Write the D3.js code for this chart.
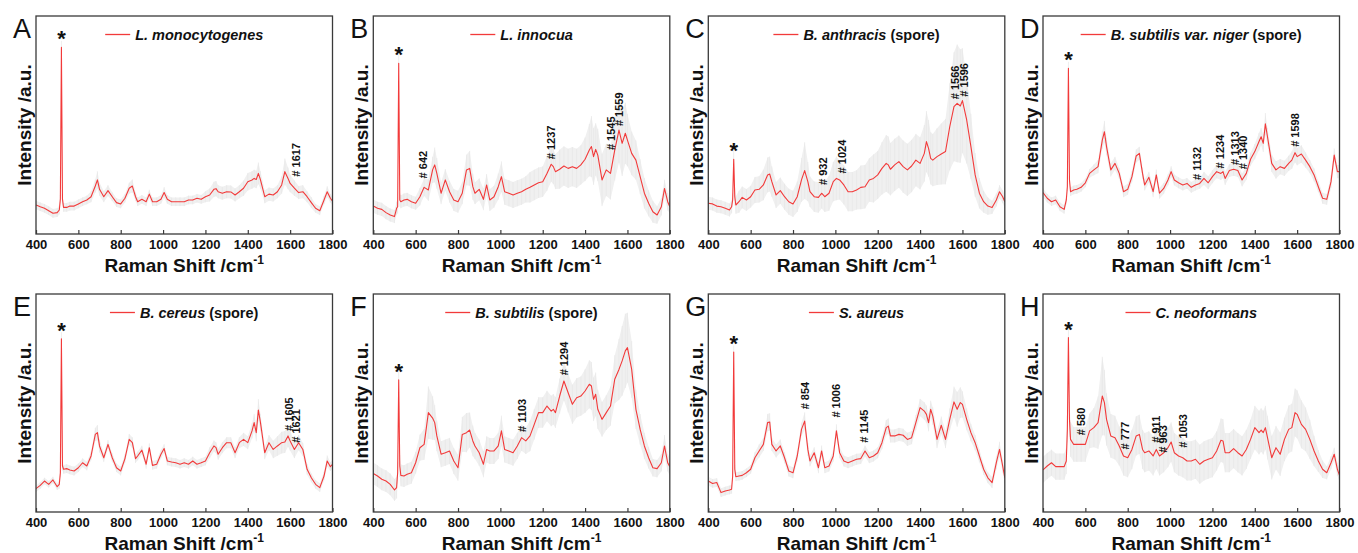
<!DOCTYPE html>
<html><head><meta charset="utf-8">
<script src="https://cdn.jsdelivr.net/npm/d3@7"></script>
<style>
body{margin:0;background:#fff;}
svg{display:block;font-family:Arial,"Liberation Sans",sans-serif;}
</style></head><body>
<svg id="chart" width="1358" height="553"></svg>
<script>
// Raman shift grid (cm-1)
const shifts = [400,420,440,460,480,500,510,515,520,525,
530,545,560,580,600,620,640,660,680,690,
700,720,740,760,780,800,820,840,855,870,
880,900,920,935,950,970,990,1005,1020,1040,
1060,1080,1100,1120,1140,1160,1180,1200,1220,1240,
1250,1260,1280,1300,1320,1340,1360,1380,1400,1420,
1430,1440,1450,1460,1480,1500,1520,1540,1560,1575,
1590,1600,1620,1640,1660,1680,1700,1720,1740,1760,
1775,1790,1800];
const xTicks = [400,600,800,1000,1200,1400,1600,1800];
const panelLetters = ["A","B","C","D","E","F","G","H"];
const speciesNames = ["L. monocytogenes","L. innocua","B. anthracis","B. subtilis var. niger","B. cereus","B. subtilis","S. aureus","C. neoformans"];
const speciesSuffix = ["","", " (spore)", " (spore)", " (spore)", " (spore)", "", ""];

// mean intensities (a.u., 0-100 of frame)
const meanA = [13.3,12.5,11.8,10.7,9.5,9.8,11,16,85.6,16,
12.2,12.2,12.8,12.8,13.8,14.8,15.6,17.1,22,24.8,
20.5,17.1,19.9,17.1,14.4,13.8,16.4,21,22,17.1,
14.8,15.9,14.8,18.3,14.8,14.8,15.9,19,15.9,14.8,
14.8,14.8,14.8,15.6,15.6,16.4,15.9,17.1,17.9,20.5,
20.8,19.4,18.7,19.4,19.3,17.9,19.4,21,24,24.8,
25.5,25,27.8,24.8,17.1,18.3,17.9,19.4,22.5,28.6,
25.5,23.2,21,19,19.4,17.1,14.4,11.8,10.7,15.6,
19.4,16.4,15.1];
const sdA = [2,2,2,2,2,2,2,2,3,2,
2,2,2,2,2,2,2,2.5,3,4,
3,2.5,2.5,2,2,2,2,2.5,3,2,
2,2,2,2,2,2,2,2.5,2,2,
2,2,2,2,2,2,2,2.5,3,3.5,
3.5,3,3,3,3,3,3,3.5,4,4,
4,4,5,4,3,3,3,3,4,6,
5,4,3.5,3,3,2.5,2.5,2,2,2,
2.5,2,2];
const meanB = [12.8,11.8,11.3,9.8,8.7,8,11.8,12.5,78.3,15.6,
14.8,15.6,15.9,14.8,14.1,17.1,21.4,20.2,29.4,31.7,
27.8,18.7,24.8,19.4,15.6,14.8,18.7,29.4,30.1,21.7,
18.7,20.5,15.9,22.5,15.6,17.1,21.7,26.3,19.4,18.7,
17.9,18.7,19.4,20.5,21.4,22.5,23.5,24,27.8,32,
30.9,28.6,29.7,31.2,30.1,30.9,30.1,31.7,34.3,38.5,
40.1,35.5,38.8,36.2,24.8,29.4,27.8,38.5,47.7,41.6,
46.2,43.1,37,33.9,26.3,18.7,14.1,10.2,8.7,12.5,
20.9,14.8,12.5];
const sdB = [3,3,3,3,3,3,3,3,4,3,
3,3,3,3,3,4,4,5,6,8,
7,5,5,5,5,5,5,7,8,6,
5,5,5,5,5,5,6,7,6,6,
6,6,6,6,7,7,7,7,8,8,
8,8,9,9,9,9,9,9,10,12,
14,13,12,12,12,12,12,14,15,15,
14,12,10,9,8,7,6,5,4,4,
4,4,3];
const meanC = [14.1,13.8,12.8,12.5,11.8,11,12.5,15.6,34.3,17.1,
13.3,14.8,16.8,15.6,17.1,20.2,20.5,22.5,27.1,27.5,
24,17.9,19.9,17.1,14.8,13.8,17.1,24.8,29.1,24,
19.4,17.1,16.8,18.7,17.1,18.7,24,25.5,24.8,22.5,
19.4,19.4,20.2,21.4,21.7,24.8,25.5,27.1,30.1,32.4,
31.7,29.7,31.7,33.2,30.9,29.4,31.2,33.9,32.4,37,
42.4,39.3,34.7,33.9,35.5,36.7,37.8,49.2,58.4,59.9,
58.7,61.2,52.3,40.1,27.1,18.7,14.8,12.8,12.2,15.6,
19.4,17.1,14.8];
const sdC = [3,3,3,3,3,3,3,3,5,4,
4,5,5,5,5,6,6,7,8,8,
7,6,6,6,6,6,7,10,13,9,
7,7,7,7,7,8,9,10,9,9,
9,9,9,10,10,10,11,11,12,13,
13,12,12,12,12,12,12,12,12,13,
14,13,12,12,13,14,15,20,25,27,
26,24,20,15,10,7,5,4,3,3,
3,3,3];
const meanD = [19,16.4,14.8,15.6,12.5,11.3,15.6,21.7,76,24.8,
19.4,20.2,20.5,21.4,23.5,27.8,29.4,30.9,43.1,46.9,
40.1,29.4,32.4,27.8,19.4,20.5,26.3,35.8,37,27.8,
22.5,26,19.4,27.1,18.7,20.9,24.8,28.6,24.8,23.5,
22.5,23.2,21.4,22.5,23.2,25.5,23.5,26.3,28.6,27.8,
28.6,25.5,29.1,29.7,29.1,24.8,27.8,34.3,37.8,42.4,
44.6,41.6,50.5,44.6,32.4,29.4,30.9,30.1,32.4,33.9,
37.3,35.5,36.7,33.9,30.9,27.1,21.7,16.4,15.9,24,
36.2,28.6,28.6];
const sdD = [2,2,2,2,2,2,2,2,3,2,
2,2,2,2,2,2,2.5,3,4,5,
4,3,3,2.5,2.5,2.5,2.5,3,3,2.5,
2.5,2.5,2.5,2.5,2.5,2.5,2.5,2.5,2.5,2.5,
2.5,2.5,2.5,2.5,2.5,3,3,3,3,3,
3,3,3,3,3,3,3,3,3.5,4,
4,4,5,4,4,4,3.5,3.5,3.5,4,
4.5,4,4,3.5,3,3,2.5,2.5,2.5,3,
3,3,3];
const meanE = [10.7,12.2,14.2,12.7,14.7,11.6,12.7,18,79.5,21.1,
19.6,19.9,19.3,18.8,20.3,22.6,21.1,25.7,35.6,36.4,
30.3,24.9,31,24.9,20.3,18.8,24.5,33.3,31.8,24.5,
25.7,28.4,21.9,29.5,21.4,21.9,26.5,29.1,23.4,22.9,
22.6,21.9,22.6,21.9,23.4,21.9,22.6,23.4,27.2,30.3,
29.5,26.5,29.5,31.8,31.8,27.2,31.8,33.3,31.8,37.2,
41,36.4,46.8,41,27.2,31.8,28.7,30.3,31.8,32.1,
34.9,32.6,28.7,31.8,28.7,19.6,15.7,12.7,11.2,16.5,
23.4,20.8,21.9];
const sdE = [1.5,1.5,1.5,1.5,1.5,1.5,2,2,3,2,
2,2,2,2,2,2,2,2,3,3.5,
3,2,2,2,2,2,2,2.5,2.5,2,
2,2,2,2,2,2,2,2,2,2,
2,2,2,2,2,2,2,2,2.5,2.5,
2.5,2.5,2.5,2.5,2.5,2.5,2.5,3,3,3.5,
4,4,5,4,3,3.5,4,4.5,5,5,
5,4.5,4,3.5,3,2.5,2,2,2,2,
2.5,2,2];
const meanF = [17.7,16.5,15,14.2,12.7,10.1,11.2,18,60.6,21.1,
16.8,16.5,17.3,18,22.6,29.5,31,45.6,43.1,41,
34.9,26.5,27.2,28,23.4,20.3,35.6,36.4,37.6,32.6,
30.3,27.2,21.9,28.7,28,28,30.3,37.2,28.7,28,
27.2,30.3,34.1,32.6,34.9,40.2,45.6,45.6,48.6,46.3,
47.1,45.6,53.2,60.1,54.7,49.4,52.4,53.2,55.5,58.6,
57.8,51.7,54,47.1,42.5,45.6,48.6,60.9,65.4,69.3,
73.9,75.4,65.4,47.1,37.9,30.3,24.9,20.3,19.9,22.6,
30.3,22.6,20.8];
const sdF = [5,5,5,5,5,5,5,5,6,5,
5,5,5,5,5,6,7,12,10,8,
7,6,6,6,6,6,8,9,8,7,
6,6,6,6,6,6,6,7,6,6,
6,6,6,6,7,7,7,7,7,7,
7,7,8,9,9,9,9,9,10,11,
11,10,10,9,8,8,9,11,14,16,
17,16,13,9,7,6,5,4,4,4,
5,4,4];
const meanG = [14.2,13.1,13.5,8.9,9.6,10.1,10.4,16.5,73.4,19.6,
16.2,16.5,16.8,18,19.6,24.9,28,31,41,41.3,
31,28,30.3,24.9,18.8,18,25.7,37.9,41.7,28.7,
23.4,27.2,20.3,28,20.3,21.1,25.7,37.2,27.2,23.4,
22.6,23.4,24.2,24.5,28,24.9,25.7,27.2,31.8,38.7,
39.4,34.9,34.9,35.6,35.2,33.3,34.1,41,47.9,46.3,
44.8,41,47.1,44,33.3,39.8,33.3,42.5,50.5,47.1,
50.2,49.4,42.5,36.4,31.8,25.7,19.6,15.7,13.5,22.6,
28.7,21.1,15.7];
const sdG = [2,2,2,2,2,2,2,2,3,2,
2,2,2,2,2,2.5,3,3,4,4,
3,3,3,2.5,2.5,2.5,2.5,3,4,3,
2.5,2.5,2.5,2.5,2.5,2.5,2.5,3,2.5,2.5,
2.5,2.5,2.5,2.5,2.5,2.5,2.5,2.5,3,3.5,
3.5,3,3,3,3,3,3,3.5,4,4,
4,4,4,4,4,4,4,5,7,8,
7,6,5,4,3.5,3,2.5,2.5,2.5,3,
3.5,3,3];
const meanH = [19.3,21.1,22.6,20.8,20.8,20.8,23.4,37.9,80,42.5,
33.3,31,31,31,31,37.2,38.7,41,53.2,50.2,
42.5,34.9,34.1,30.3,25.7,24.9,28.7,34.9,35.6,28.7,
27.2,28,25.7,28.7,25.7,27.2,29.5,32.1,27.2,25.7,
24.9,23.4,23.4,24.2,21.9,23.4,24.2,24.9,28,32.9,
32.6,27.2,27.2,29.1,27.2,25.7,28.7,33.3,38.7,36.4,
37.6,36.4,38.7,34.1,24.9,29.5,26.5,33.3,37.9,38.7,
45.6,44.8,40.2,37.9,33.3,28,23.4,19.6,18,22.6,
26.5,19.6,16.8];
const sdH = [6,6,6,6,6,6,6,6,5,8,
8,8,8,8,8,8,9,12,18,15,
12,10,10,9,9,9,9,9,9,9,
9,9,9,9,9,9,9,9,9,9,
9,9,9,9,9,9,9,9,9,10,
10,9,9,9,9,9,9,9,10,10,
10,10,10,10,10,10,10,10,11,11,
11,11,11,10,9,7,5,4,3,3,
3,3,3];

// peak annotations: label text, position (cm-1), label base height (a.u.)
const peaksA = ["1617"],  peakPosA = [1626], peakHtA = [26.3];
const peaksB = ["642","1237","1545","1559"], peakPosB = [636,1242,1525,1561], peakHtB = [25.5,34.3,38.5,49.5];
const peaksC = ["932","1024","1566","1596"], peakPosC = [940,1032,1564,1607], peakHtC = [22.5,27.8,61.8,63];
const peaksD = ["1132","1234","1313","1340","1598"], peakPosD = [1128,1235,1308,1345,1591], peakHtD = [24.8,30.1,31.7,29.7,40];
const peaksE = ["1605","1621"], peakPosE = [1595,1626], peakHtE = [37.2,31.8];
const peaksF = ["1103","1294"], peakPosF = [1105,1300], peakHtF = [36.7,62.7];
const peaksG = ["854","1006","1145"], peakPosG = [856,1002,1135], peakHtG = [47.1,43.3,31.8];
const peaksH = ["580","777","911","963","1053"], peakPosH = [581,789,935,969,1060], peakHtH = [35.2,28.7,31.8,27.2,29.5];

const panels = [
  {mean:meanA, sd:sdA, pk:peaksA, pp:peakPosA, ph:peakHtA},
  {mean:meanB, sd:sdB, pk:peaksB, pp:peakPosB, ph:peakHtB},
  {mean:meanC, sd:sdC, pk:peaksC, pp:peakPosC, ph:peakHtC},
  {mean:meanD, sd:sdD, pk:peaksD, pp:peakPosD, ph:peakHtD},
  {mean:meanE, sd:sdE, pk:peaksE, pp:peakPosE, ph:peakHtE},
  {mean:meanF, sd:sdF, pk:peaksF, pp:peakPosF, ph:peakHtF},
  {mean:meanG, sd:sdG, pk:peaksG, pp:peakPosG, ph:peakHtG},
  {mean:meanH, sd:sdH, pk:peaksH, pp:peakPosH, ph:peakHtH}
];

const colX = [36, 373.3, 708.3, 1043];
const rowY = [16, 294];
const W = 296.5, H = 218;
const RED = "#f23a3a";

const svg = d3.select("#chart");
const defs = svg.append("defs");

panels.forEach((p, i) => {
  const left = colX[i % 4], top = rowY[Math.floor(i / 4)];
  const x = d3.scaleLinear().domain([400, 1800]).range([left, left + W]);
  const y = d3.scaleLinear().domain([0, 100]).range([top + H, top]);
  const data = shifts.map((s, k) => ({s, m: p.mean[k], sd: p.sd[k]}));

  defs.append("clipPath").attr("id", "clip" + i)
    .append("rect").attr("x", left).attr("y", top).attr("width", W).attr("height", H);

  const g = svg.append("g");
  const pg = g.append("g").attr("clip-path", `url(#clip${i})`);

  pg.append("path").datum(data)
    .attr("d", d3.area().x(d => x(d.s)).y0(d => y(d.m - d.sd)).y1(d => y(d.m + d.sd)))
    .attr("fill", "#f0f0f0");
  // error-bar texture
  pg.selectAll("line.eb").data(data).enter().append("line")
    .attr("x1", d => x(d.s)).attr("x2", d => x(d.s))
    .attr("y1", d => y(d.m - d.sd)).attr("y2", d => y(d.m + d.sd))
    .attr("stroke", "#e6e6e6").attr("stroke-width", 0.7);
  pg.append("path").datum(data)
    .attr("d", d3.line().x(d => x(d.s)).y(d => y(d.m)))
    .attr("fill", "none").attr("stroke", RED).attr("stroke-width", 1.1)
    .attr("stroke-linejoin", "round");

  // frame
  g.append("rect").attr("x", left).attr("y", top).attr("width", W).attr("height", H)
    .attr("fill", "none").attr("stroke", "#3a3a3a").attr("stroke-width", 1.3);

  // x axis
  const ax = g.append("g").attr("transform", `translate(0,${top + H})`)
    .call(d3.axisBottom(x).tickValues(xTicks).tickSizeInner(-4).tickSizeOuter(0).tickPadding(6).tickFormat(d3.format("d")));
  ax.select(".domain").remove();
  ax.selectAll(".tick line").attr("stroke", "#3a3a3a").attr("stroke-width", 1.2);
  ax.selectAll(".tick text").attr("font-size", 13).attr("font-weight", "bold")
    .attr("fill", "#111").attr("font-family", "Arial, 'Liberation Sans', sans-serif");

  // x title
  const xt = g.append("text").attr("x", left + W / 2).attr("y", top + H + 38)
    .attr("text-anchor", "middle").attr("font-size", 19).attr("font-weight", "bold").attr("fill", "#111");
  xt.append("tspan").text("Raman Shift /cm");
  xt.append("tspan").attr("dy", -8).attr("font-size", 12).text("-1");

  // y title
  g.append("text").attr("transform", `translate(${left - 5},${top + H / 2}) rotate(-90)`)
    .attr("text-anchor", "middle").attr("font-size", 19).attr("font-weight", "bold").attr("fill", "#111")
    .text("Intensity /a.u.");

  // panel letter
  g.append("text").attr("x", left - 23).attr("y", top + 22)
    .attr("font-size", 27).attr("fill", "#111").text(panelLetters[i]);

  // legend
  const lg = g.append("g");
  lg.append("line").attr("x1", 0).attr("x2", 25).attr("y1", 0).attr("y2", 0)
    .attr("stroke", RED).attr("stroke-width", 1.3);
  const lt = lg.append("text").attr("x", 30).attr("y", 5)
    .attr("font-size", 14.5).attr("font-weight", "bold").attr("fill", "#111");
  lt.append("tspan").attr("font-style", "italic").text(speciesNames[i]);
  if (speciesSuffix[i]) lt.append("tspan").text(speciesSuffix[i]);
  const lw = lg.node().getBBox().width;
  lg.attr("transform", `translate(${left + W / 2 - lw / 2},${top + 18.5})`);

  // asterisk over Si peak at 520
  const k520 = shifts.indexOf(520);
  g.append("text").attr("x", x(520)).attr("y", y(p.mean[k520]) - 1)
    .attr("text-anchor", "middle").attr("font-size", 22).attr("font-weight", "bold").attr("fill", "#111")
    .text("*");

  // peak labels
  p.pk.forEach((t, j) => {
    g.append("text")
      .attr("transform", `translate(${x(p.pp[j])},${y(p.ph[j])}) rotate(-90)`)
      .attr("dy", "0.35em").attr("font-size", 11).attr("font-weight", "bold").attr("fill", "#111")
      .text("# " + t);
  });
});
</script>
</body></html>
